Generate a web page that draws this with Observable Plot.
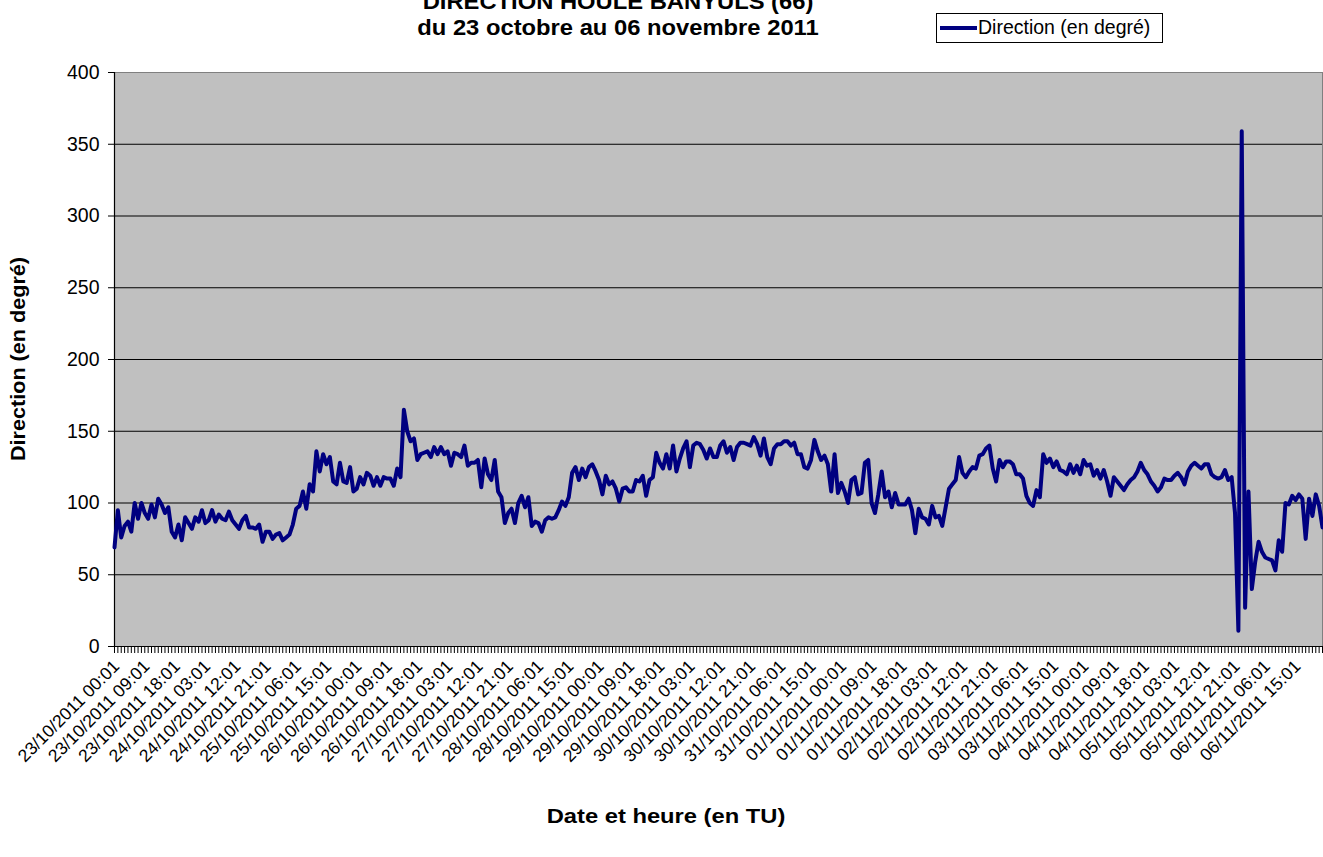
<!DOCTYPE html>
<html><head><meta charset="utf-8">
<script src="https://cdn.jsdelivr.net/npm/d3@7"></script>
<script src="https://cdn.jsdelivr.net/npm/@observablehq/plot@0.6"></script>
<style>
body{margin:0;background:#fff;font-family:"Liberation Sans",Arial,sans-serif;}
#wrap{position:relative;width:1323px;height:857px;overflow:hidden;}
.t{position:absolute;white-space:nowrap;font-weight:bold;color:#000;line-height:1;}
#legend{position:absolute;left:936px;top:13px;width:227px;height:30px;border:1px solid #000;background:#fff;box-sizing:border-box;}
#legend .sw{position:absolute;left:3px;top:12px;width:37px;height:4px;background:#000080;}
#legend .lb{position:absolute;left:41px;top:4px;font-size:19.5px;line-height:1;white-space:nowrap;}
</style></head><body><div id="wrap"></div>
<script>
const title1 = "DIRECTION HOULE BANYULS (66)";
const title2 = "du 23 octobre au 06 novembre 2011";
const yTitle = "Direction (en degré)";
const xTitle = "Date et heure (en TU)";
const seriesName = "Direction (en degré)";
const startTime = "2011-10-23T00:01:00Z";
const nPoints = 360;
const yTicks = [0, 50, 100, 150, 200, 250, 300, 350, 400];
const tickLabels = ["23/10/2011 00:01","23/10/2011 09:01","23/10/2011 18:01","24/10/2011 03:01","24/10/2011 12:01","24/10/2011 21:01","25/10/2011 06:01","25/10/2011 15:01","26/10/2011 00:01","26/10/2011 09:01","26/10/2011 18:01","27/10/2011 03:01","27/10/2011 12:01","27/10/2011 21:01","28/10/2011 06:01","28/10/2011 15:01","29/10/2011 00:01","29/10/2011 09:01","29/10/2011 18:01","30/10/2011 03:01","30/10/2011 12:01","30/10/2011 21:01","31/10/2011 06:01","31/10/2011 15:01","01/11/2011 00:01","01/11/2011 09:01","01/11/2011 18:01","02/11/2011 03:01","02/11/2011 12:01","02/11/2011 21:01","03/11/2011 06:01","03/11/2011 15:01","04/11/2011 00:01","04/11/2011 09:01","04/11/2011 18:01","05/11/2011 03:01","05/11/2011 12:01","05/11/2011 21:01","06/11/2011 06:01","06/11/2011 15:01"];
const direction = [
69,95,76,84,87,80,100,89,100,93,
89,99,90,103,99,93,97,80,76,85,
74,90,86,82,90,87,95,86,88,95,
87,92,89,88,94,88,85,82,88,91,
83,83,82,85,73,80,80,75,78,79,
74,76,78,85,96,98,108,96,113,108,
136,122,134,127,132,115,113,128,115,114,
125,108,110,118,
113,121,119,112,118,112,118,117,117,112,
124,118,165,150,143,145,130,134,135,136,
132,139,134,139,134,136,126,135,134,132,
140,126,128,128,130,111,131,120,116,130,
108,104,86,93,96,86,100,105,97,104,
84,87,86,80,88,90,89,90,95,101,
98,104,121,125,116,124,118,125,127,122,
116,106,119,
113,115,110,101,110,111,108,108,116,115,
119,105,116,118,135,128,124,134,124,140,
122,131,138,143,125,140,142,141,137,131,
138,132,132,140,143,135,139,130,139,142,
142,141,140,146,141,133,145,132,127,138,
141,141,143,143,140,142,134,134,125,124,
130,144,136,130,133,127,108,134,107,114,
108,100,116,
118,106,107,128,130,100,93,106,122,104,
108,97,107,99,99,99,103,95,79,96,
90,89,85,98,90,91,84,97,110,113,
116,132,121,118,122,125,124,133,134,138,
140,124,115,130,125,129,129,127,120,120,
117,105,100,98,109,104,134,128,131,125,
129,123,122,120,127,121,126,120,130,126,
127,119,123,
117,123,115,105,118,115,112,109,113,116,
118,122,128,123,120,115,112,108,111,117,
116,116,119,121,118,113,122,126,128,126,
124,127,127,120,118,117,118,123,116,118,
93,11,359,27,108,40,59,73,66,62,
61,60,53,74,66,100,99,105,102,106,
103,75,103,91,106,98,83
];

const fmt = d3.utcFormat("%d/%m/%Y %H:%M");
const t0 = new Date(startTime);
const categories = d3.range(nPoints).map(i => fmt(d3.utcHour.offset(t0, i)));
const data = categories.map((c, i) => ({c, v: direction[i]}));
const grid = yTicks.filter(v => v > 0 && v < 400);

const chart = Plot.plot({
  width: 1323, height: 857,
  marginLeft: 114, marginRight: 1, marginTop: 72, marginBottom: 211,
  style: {fontFamily: "'Liberation Sans', Arial, sans-serif", color: "#000", background: "transparent", overflow: "visible"},
  x: {type: "point", domain: categories, padding: 0, axis: null},
  y: {domain: [0, 400], axis: null},
  marks: [
    Plot.frame({fill: "#C0C0C0", stroke: null}),
    Plot.ruleY(grid, {stroke: "#000", strokeWidth: 1}),
    Plot.frame({stroke: "#808080", strokeWidth: 1}),
    Plot.ruleX([categories[0]], {stroke: "#000", strokeWidth: 1.2}),
    Plot.ruleY([0], {stroke: "#000", strokeWidth: 1.2}),
    Plot.line(data, {x: "c", y: "v", stroke: "#000080", strokeWidth: 4, strokeLinejoin: "round", strokeLinecap: "round"}),
    Plot.axisY(yTicks, {tickSize: 6, tickPadding: 9, fontSize: 19.5, label: null, stroke: "#000"}),
    Plot.axisX(categories, {tickSize: 7, tickFormat: () => "", label: null, stroke: "#000", strokeWidth: 1}),
    Plot.axisX(tickLabels, {tickSize: 0, tickPadding: 17, tickRotate: -45, fontSize: 17.5, label: null, dx: 2})
  ]
});
const wrap = document.getElementById("wrap");
wrap.appendChild(chart);
chart.style.position = "absolute"; chart.style.left = "0"; chart.style.top = "0";

function addText(txt, css) {
  const d = document.createElement("div");
  d.className = "t"; d.textContent = txt;
  Object.assign(d.style, css);
  wrap.appendChild(d);
  return d;
}
addText(title1, {left: "618px", top: "-9px", fontSize: "22px", transform: "translateX(-50%) scaleX(1.08)"});
addText(title2, {left: "618px", top: "17px", fontSize: "22px", transform: "translateX(-50%) scaleX(1.08)"});
addText(xTitle, {left: "666px", top: "805px", fontSize: "21px", transform: "translateX(-50%) scaleX(1.13)"});
addText(yTitle, {left: "18px", top: "359px", fontSize: "20px", transform: "translate(-50%,-50%) rotate(-90deg) scaleX(1.08)"});

const lg = document.createElement("div");
lg.id = "legend";
lg.innerHTML = '<div class="sw"></div><div class="lb"></div>';
lg.querySelector(".lb").textContent = seriesName;
wrap.appendChild(lg);
</script></body></html>
